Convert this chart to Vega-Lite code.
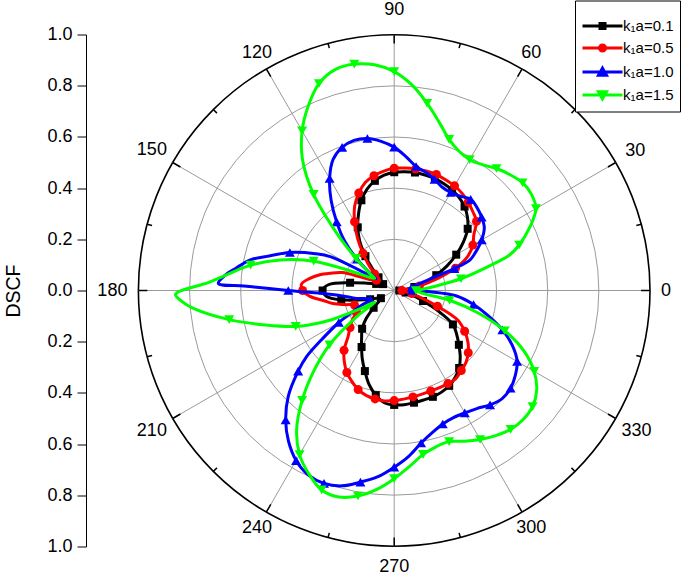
{
  "$schema": "https://vega.github.io/schema/vega-lite/v6.json",
  "width": 564,
  "height": 512,
  "autosize": {"type": "none"},
  "padding": {"left": 86, "top": 34.5, "right": 35, "bottom": 29.5},
  "background": "white",
  "config": {"view": {"stroke": null}, "font": "Liberation Sans"},
  "datasets": {
    "curves": [
      {"s":"k₁a=0.1","t":0,"r":0.02},{"s":"k₁a=0.1","t":5,"r":0.04},{"s":"k₁a=0.1","t":10,"r":0.08},{"s":"k₁a=0.1","t":15,"r":0.125},{"s":"k₁a=0.1","t":20,"r":0.175},{"s":"k₁a=0.1","t":25,"r":0.228},{"s":"k₁a=0.1","t":30,"r":0.28},{"s":"k₁a=0.1","t":35,"r":0.33},{"s":"k₁a=0.1","t":40,"r":0.375},{"s":"k₁a=0.1","t":45,"r":0.405},{"s":"k₁a=0.1","t":50,"r":0.428},{"s":"k₁a=0.1","t":55,"r":0.443},{"s":"k₁a=0.1","t":60,"r":0.453},{"s":"k₁a=0.1","t":65,"r":0.46},{"s":"k₁a=0.1","t":70,"r":0.465},{"s":"k₁a=0.1","t":75,"r":0.467},{"s":"k₁a=0.1","t":80,"r":0.468},{"s":"k₁a=0.1","t":85,"r":0.466},{"s":"k₁a=0.1","t":90,"r":0.462},{"s":"k₁a=0.1","t":95,"r":0.452},{"s":"k₁a=0.1","t":100,"r":0.435},{"s":"k₁a=0.1","t":105,"r":0.41},{"s":"k₁a=0.1","t":110,"r":0.375},{"s":"k₁a=0.1","t":115,"r":0.33},{"s":"k₁a=0.1","t":120,"r":0.285},{"s":"k₁a=0.1","t":125,"r":0.235},{"s":"k₁a=0.1","t":130,"r":0.175},{"s":"k₁a=0.1","t":135,"r":0.12},{"s":"k₁a=0.1","t":140,"r":0.08},{"s":"k₁a=0.1","t":145,"r":0.055},{"s":"k₁a=0.1","t":150,"r":0.05},{"s":"k₁a=0.1","t":155,"r":0.055},{"s":"k₁a=0.1","t":160,"r":0.075},{"s":"k₁a=0.1","t":165,"r":0.11},{"s":"k₁a=0.1","t":170,"r":0.175},{"s":"k₁a=0.1","t":175,"r":0.258},{"s":"k₁a=0.1","t":180,"r":0.28},{"s":"k₁a=0.1","t":185,"r":0.265},{"s":"k₁a=0.1","t":190,"r":0.21},{"s":"k₁a=0.1","t":195,"r":0.145},{"s":"k₁a=0.1","t":200,"r":0.1},{"s":"k₁a=0.1","t":205,"r":0.07},{"s":"k₁a=0.1","t":210,"r":0.06},{"s":"k₁a=0.1","t":215,"r":0.07},{"s":"k₁a=0.1","t":220,"r":0.105},{"s":"k₁a=0.1","t":225,"r":0.155},{"s":"k₁a=0.1","t":230,"r":0.195},{"s":"k₁a=0.1","t":235,"r":0.222},{"s":"k₁a=0.1","t":240,"r":0.255},{"s":"k₁a=0.1","t":245,"r":0.295},{"s":"k₁a=0.1","t":250,"r":0.335},{"s":"k₁a=0.1","t":255,"r":0.38},{"s":"k₁a=0.1","t":260,"r":0.415},{"s":"k₁a=0.1","t":265,"r":0.44},{"s":"k₁a=0.1","t":270,"r":0.447},{"s":"k₁a=0.1","t":275,"r":0.448},{"s":"k₁a=0.1","t":280,"r":0.445},{"s":"k₁a=0.1","t":285,"r":0.443},{"s":"k₁a=0.1","t":290,"r":0.442},{"s":"k₁a=0.1","t":295,"r":0.438},{"s":"k₁a=0.1","t":300,"r":0.43},{"s":"k₁a=0.1","t":305,"r":0.415},{"s":"k₁a=0.1","t":310,"r":0.395},{"s":"k₁a=0.1","t":315,"r":0.365},{"s":"k₁a=0.1","t":320,"r":0.33},{"s":"k₁a=0.1","t":325,"r":0.298},{"s":"k₁a=0.1","t":330,"r":0.265},{"s":"k₁a=0.1","t":335,"r":0.19},{"s":"k₁a=0.1","t":340,"r":0.12},{"s":"k₁a=0.1","t":345,"r":0.075},{"s":"k₁a=0.1","t":350,"r":0.045},{"s":"k₁a=0.1","t":355,"r":0.03},{"s":"k₁a=0.1","t":360,"r":0.02},

      {"s":"k₁a=0.5","t":0,"r":0.03},{"s":"k₁a=0.5","t":5,"r":0.05},{"s":"k₁a=0.5","t":10,"r":0.1},{"s":"k₁a=0.5","t":15,"r":0.17},{"s":"k₁a=0.5","t":20,"r":0.255},{"s":"k₁a=0.5","t":25,"r":0.318},{"s":"k₁a=0.5","t":30,"r":0.355},{"s":"k₁a=0.5","t":35,"r":0.38},{"s":"k₁a=0.5","t":40,"r":0.42},{"s":"k₁a=0.5","t":45,"r":0.435},{"s":"k₁a=0.5","t":50,"r":0.45},{"s":"k₁a=0.5","t":55,"r":0.463},{"s":"k₁a=0.5","t":60,"r":0.472},{"s":"k₁a=0.5","t":65,"r":0.477},{"s":"k₁a=0.5","t":70,"r":0.482},{"s":"k₁a=0.5","t":75,"r":0.483},{"s":"k₁a=0.5","t":80,"r":0.482},{"s":"k₁a=0.5","t":85,"r":0.48},{"s":"k₁a=0.5","t":90,"r":0.478},{"s":"k₁a=0.5","t":95,"r":0.468},{"s":"k₁a=0.5","t":100,"r":0.455},{"s":"k₁a=0.5","t":105,"r":0.437},{"s":"k₁a=0.5","t":110,"r":0.405},{"s":"k₁a=0.5","t":115,"r":0.365},{"s":"k₁a=0.5","t":120,"r":0.31},{"s":"k₁a=0.5","t":125,"r":0.25},{"s":"k₁a=0.5","t":130,"r":0.19},{"s":"k₁a=0.5","t":135,"r":0.14},{"s":"k₁a=0.5","t":140,"r":0.1},{"s":"k₁a=0.5","t":145,"r":0.08},{"s":"k₁a=0.5","t":150,"r":0.08},{"s":"k₁a=0.5","t":155,"r":0.1},{"s":"k₁a=0.5","t":158,"r":0.14},{"s":"k₁a=0.5","t":161,"r":0.215},{"s":"k₁a=0.5","t":165,"r":0.26},{"s":"k₁a=0.5","t":168,"r":0.297},{"s":"k₁a=0.5","t":172,"r":0.335},{"s":"k₁a=0.5","t":176,"r":0.363},{"s":"k₁a=0.5","t":180,"r":0.358},{"s":"k₁a=0.5","t":184,"r":0.33},{"s":"k₁a=0.5","t":188,"r":0.28},{"s":"k₁a=0.5","t":192,"r":0.245},{"s":"k₁a=0.5","t":196,"r":0.2},{"s":"k₁a=0.5","t":200,"r":0.165},{"s":"k₁a=0.5","t":205,"r":0.155},{"s":"k₁a=0.5","t":210,"r":0.17},{"s":"k₁a=0.5","t":215,"r":0.2},{"s":"k₁a=0.5","t":220,"r":0.225},{"s":"k₁a=0.5","t":225,"r":0.255},{"s":"k₁a=0.5","t":230,"r":0.305},{"s":"k₁a=0.5","t":235,"r":0.34},{"s":"k₁a=0.5","t":240,"r":0.37},{"s":"k₁a=0.5","t":245,"r":0.392},{"s":"k₁a=0.5","t":250,"r":0.412},{"s":"k₁a=0.5","t":255,"r":0.424},{"s":"k₁a=0.5","t":260,"r":0.43},{"s":"k₁a=0.5","t":265,"r":0.433},{"s":"k₁a=0.5","t":270,"r":0.43},{"s":"k₁a=0.5","t":275,"r":0.426},{"s":"k₁a=0.5","t":280,"r":0.422},{"s":"k₁a=0.5","t":285,"r":0.419},{"s":"k₁a=0.5","t":290,"r":0.418},{"s":"k₁a=0.5","t":295,"r":0.419},{"s":"k₁a=0.5","t":300,"r":0.42},{"s":"k₁a=0.5","t":305,"r":0.42},{"s":"k₁a=0.5","t":310,"r":0.408},{"s":"k₁a=0.5","t":315,"r":0.397},{"s":"k₁a=0.5","t":320,"r":0.378},{"s":"k₁a=0.5","t":325,"r":0.352},{"s":"k₁a=0.5","t":330,"r":0.318},{"s":"k₁a=0.5","t":335,"r":0.275},{"s":"k₁a=0.5","t":340,"r":0.18},{"s":"k₁a=0.5","t":345,"r":0.11},{"s":"k₁a=0.5","t":350,"r":0.07},{"s":"k₁a=0.5","t":355,"r":0.045},{"s":"k₁a=0.5","t":360,"r":0.03},

      {"s":"k₁a=1.0","t":0,"r":0.07},{"s":"k₁a=1.0","t":5,"r":0.06},{"s":"k₁a=1.0","t":10,"r":0.07},{"s":"k₁a=1.0","t":15,"r":0.1},{"s":"k₁a=1.0","t":18,"r":0.15},{"s":"k₁a=1.0","t":20,"r":0.25},{"s":"k₁a=1.0","t":22,"r":0.32},{"s":"k₁a=1.0","t":25,"r":0.35},{"s":"k₁a=1.0","t":30,"r":0.395},{"s":"k₁a=1.0","t":35,"r":0.43},{"s":"k₁a=1.0","t":40,"r":0.446},{"s":"k₁a=1.0","t":45,"r":0.458},{"s":"k₁a=1.0","t":50,"r":0.465},{"s":"k₁a=1.0","t":55,"r":0.45},{"s":"k₁a=1.0","t":60,"r":0.442},{"s":"k₁a=1.0","t":65,"r":0.445},{"s":"k₁a=1.0","t":70,"r":0.462},{"s":"k₁a=1.0","t":75,"r":0.478},{"s":"k₁a=1.0","t":80,"r":0.492},{"s":"k₁a=1.0","t":85,"r":0.525},{"s":"k₁a=1.0","t":90,"r":0.56},{"s":"k₁a=1.0","t":95,"r":0.585},{"s":"k₁a=1.0","t":100,"r":0.603},{"s":"k₁a=1.0","t":105,"r":0.607},{"s":"k₁a=1.0","t":110,"r":0.595},{"s":"k₁a=1.0","t":115,"r":0.565},{"s":"k₁a=1.0","t":120,"r":0.505},{"s":"k₁a=1.0","t":125,"r":0.43},{"s":"k₁a=1.0","t":130,"r":0.35},{"s":"k₁a=1.0","t":135,"r":0.275},{"s":"k₁a=1.0","t":140,"r":0.19},{"s":"k₁a=1.0","t":144,"r":0.12},{"s":"k₁a=1.0","t":147,"r":0.085},{"s":"k₁a=1.0","t":149,"r":0.13},{"s":"k₁a=1.0","t":152,"r":0.28},{"s":"k₁a=1.0","t":155,"r":0.34},{"s":"k₁a=1.0","t":160,"r":0.434},{"s":"k₁a=1.0","t":165,"r":0.515},{"s":"k₁a=1.0","t":168,"r":0.575},{"s":"k₁a=1.0","t":172,"r":0.625},{"s":"k₁a=1.0","t":175,"r":0.665},{"s":"k₁a=1.0","t":177.7,"r":0.688},{"s":"k₁a=1.0","t":178.3,"r":0.588},{"s":"k₁a=1.0","t":179.1,"r":0.489},{"s":"k₁a=1.0","t":180,"r":0.414},{"s":"k₁a=1.0","t":180.7,"r":0.368},{"s":"k₁a=1.0","t":181.9,"r":0.294},{"s":"k₁a=1.0","t":184.5,"r":0.226},{"s":"k₁a=1.0","t":188,"r":0.18},{"s":"k₁a=1.0","t":192,"r":0.15},{"s":"k₁a=1.0","t":200,"r":0.1},{"s":"k₁a=1.0","t":205,"r":0.15},{"s":"k₁a=1.0","t":210,"r":0.25},{"s":"k₁a=1.0","t":214,"r":0.34},{"s":"k₁a=1.0","t":217,"r":0.428},{"s":"k₁a=1.0","t":220,"r":0.49},{"s":"k₁a=1.0","t":225,"r":0.586},{"s":"k₁a=1.0","t":230,"r":0.66},{"s":"k₁a=1.0","t":235,"r":0.72},{"s":"k₁a=1.0","t":240,"r":0.767},{"s":"k₁a=1.0","t":245,"r":0.795},{"s":"k₁a=1.0","t":250,"r":0.802},{"s":"k₁a=1.0","t":255,"r":0.79},{"s":"k₁a=1.0","t":260,"r":0.76},{"s":"k₁a=1.0","t":265,"r":0.73},{"s":"k₁a=1.0","t":270,"r":0.69},{"s":"k₁a=1.0","t":275,"r":0.65},{"s":"k₁a=1.0","t":280,"r":0.605},{"s":"k₁a=1.0","t":285,"r":0.575},{"s":"k₁a=1.0","t":290,"r":0.555},{"s":"k₁a=1.0","t":295,"r":0.548},{"s":"k₁a=1.0","t":300,"r":0.552},{"s":"k₁a=1.0","t":305,"r":0.563},{"s":"k₁a=1.0","t":310,"r":0.583},{"s":"k₁a=1.0","t":315,"r":0.597},{"s":"k₁a=1.0","t":320,"r":0.594},{"s":"k₁a=1.0","t":325,"r":0.578},{"s":"k₁a=1.0","t":330,"r":0.555},{"s":"k₁a=1.0","t":335,"r":0.51},{"s":"k₁a=1.0","t":340,"r":0.45},{"s":"k₁a=1.0","t":345,"r":0.38},{"s":"k₁a=1.0","t":350,"r":0.315},{"s":"k₁a=1.0","t":355,"r":0.245},{"s":"k₁a=1.0","t":358,"r":0.14},{"s":"k₁a=1.0","t":360,"r":0.07},

      {"s":"k₁a=1.5","t":0,"r":0.085},{"s":"k₁a=1.5","t":4,"r":0.13},{"s":"k₁a=1.5","t":8,"r":0.205},{"s":"k₁a=1.5","t":10,"r":0.265},{"s":"k₁a=1.5","t":14,"r":0.37},{"s":"k₁a=1.5","t":17,"r":0.47},{"s":"k₁a=1.5","t":20,"r":0.52},{"s":"k₁a=1.5","t":25,"r":0.585},{"s":"k₁a=1.5","t":30,"r":0.64},{"s":"k₁a=1.5","t":35,"r":0.655},{"s":"k₁a=1.5","t":40,"r":0.655},{"s":"k₁a=1.5","t":45,"r":0.64},{"s":"k₁a=1.5","t":50,"r":0.622},{"s":"k₁a=1.5","t":55,"r":0.6},{"s":"k₁a=1.5","t":60,"r":0.59},{"s":"k₁a=1.5","t":65,"r":0.6},{"s":"k₁a=1.5","t":70,"r":0.628},{"s":"k₁a=1.5","t":75,"r":0.68},{"s":"k₁a=1.5","t":80,"r":0.742},{"s":"k₁a=1.5","t":85,"r":0.805},{"s":"k₁a=1.5","t":90,"r":0.855},{"s":"k₁a=1.5","t":95,"r":0.885},{"s":"k₁a=1.5","t":100,"r":0.898},{"s":"k₁a=1.5","t":105,"r":0.893},{"s":"k₁a=1.5","t":110,"r":0.86},{"s":"k₁a=1.5","t":115,"r":0.795},{"s":"k₁a=1.5","t":120,"r":0.72},{"s":"k₁a=1.5","t":125,"r":0.625},{"s":"k₁a=1.5","t":130,"r":0.49},{"s":"k₁a=1.5","t":135,"r":0.32},{"s":"k₁a=1.5","t":140,"r":0.195},{"s":"k₁a=1.5","t":145,"r":0.12},{"s":"k₁a=1.5","t":148,"r":0.09},{"s":"k₁a=1.5","t":152,"r":0.11},{"s":"k₁a=1.5","t":156,"r":0.19},{"s":"k₁a=1.5","t":160,"r":0.335},{"s":"k₁a=1.5","t":165,"r":0.46},{"s":"k₁a=1.5","t":170,"r":0.57},{"s":"k₁a=1.5","t":175,"r":0.665},{"s":"k₁a=1.5","t":177.5,"r":0.725},{"s":"k₁a=1.5","t":181,"r":0.855},{"s":"k₁a=1.5","t":183,"r":0.83},{"s":"k₁a=1.5","t":185,"r":0.79},{"s":"k₁a=1.5","t":190,"r":0.655},{"s":"k₁a=1.5","t":195,"r":0.52},{"s":"k₁a=1.5","t":200,"r":0.41},{"s":"k₁a=1.5","t":202,"r":0.36},{"s":"k₁a=1.5","t":205,"r":0.27},{"s":"k₁a=1.5","t":208,"r":0.16},{"s":"k₁a=1.5","t":211,"r":0.09},{"s":"k₁a=1.5","t":215,"r":0.18},{"s":"k₁a=1.5","t":220,"r":0.33},{"s":"k₁a=1.5","t":225,"r":0.445},{"s":"k₁a=1.5","t":230,"r":0.56},{"s":"k₁a=1.5","t":235,"r":0.665},{"s":"k₁a=1.5","t":240,"r":0.74},{"s":"k₁a=1.5","t":245,"r":0.79},{"s":"k₁a=1.5","t":250,"r":0.829},{"s":"k₁a=1.5","t":255,"r":0.835},{"s":"k₁a=1.5","t":260,"r":0.815},{"s":"k₁a=1.5","t":265,"r":0.78},{"s":"k₁a=1.5","t":270,"r":0.735},{"s":"k₁a=1.5","t":275,"r":0.69},{"s":"k₁a=1.5","t":280,"r":0.65},{"s":"k₁a=1.5","t":285,"r":0.632},{"s":"k₁a=1.5","t":290,"r":0.628},{"s":"k₁a=1.5","t":295,"r":0.65},{"s":"k₁a=1.5","t":300,"r":0.672},{"s":"k₁a=1.5","t":305,"r":0.692},{"s":"k₁a=1.5","t":310,"r":0.708},{"s":"k₁a=1.5","t":315,"r":0.713},{"s":"k₁a=1.5","t":320,"r":0.706},{"s":"k₁a=1.5","t":325,"r":0.68},{"s":"k₁a=1.5","t":330,"r":0.632},{"s":"k₁a=1.5","t":335,"r":0.56},{"s":"k₁a=1.5","t":340,"r":0.46},{"s":"k₁a=1.5","t":345,"r":0.34},{"s":"k₁a=1.5","t":350,"r":0.22},{"s":"k₁a=1.5","t":355,"r":0.105},{"s":"k₁a=1.5","t":360,"r":0.085}
    ],
    "rings": [{"r":0.2},{"r":0.4},{"r":0.6},{"r":0.8},{"r":1.0}],
    "spokes": [{"a":0},{"a":30},{"a":60},{"a":90},{"a":120},{"a":150},{"a":180},{"a":210},{"a":240},{"a":270},{"a":300},{"a":330}],
    "ticks": [{"a":0},{"a":15},{"a":30},{"a":45},{"a":60},{"a":75},{"a":90},{"a":105},{"a":120},{"a":135},{"a":150},{"a":165},{"a":180},{"a":195},{"a":210},{"a":225},{"a":240},{"a":255},{"a":270},{"a":285},{"a":300},{"a":315},{"a":330},{"a":345}],
    "labels": [{"a":0,"label":"0"},{"a":30,"label":"30"},{"a":60,"label":"60"},{"a":90,"label":"90"},{"a":120,"label":"120"},{"a":150,"label":"150"},{"a":180,"label":"180"},{"a":210,"label":"210"},{"a":240,"label":"240"},{"a":270,"label":"270"},{"a":300,"label":"300"},{"a":330,"label":"330"}]
  },
  "encoding": {
    "x": {"field": "x", "type": "quantitative", "scale": {"domain": [-1.2048, 1.0], "nice": false, "zero": false}, "axis": null},
    "y": {"field": "y", "type": "quantitative", "scale": {"domain": [-1, 1], "nice": false, "zero": false},
      "axis": {"values": [-1, -0.8, -0.6, -0.4, -0.2, 0, 0.2, 0.4, 0.6, 0.8, 1], "labelExpr": "format(abs(datum.value), '.1f')", "grid": false, "domainColor": "black", "domainWidth": 1, "tickColor": "black", "tickSize": 9, "tickWidth": 1, "labelFontSize": 18, "labelColor": "black", "labelFont": "Liberation Sans", "labelPadding": 5, "title": "DSCF", "titleFontSize": 19.5, "titleFontWeight": "normal", "titleColor": "black", "titleFont": "Liberation Sans", "titlePadding": 23}}
  },
  "layer": [
    {
      "data": {"name": "rings"},
      "transform": [{"calculate": "0", "as": "x"}, {"calculate": "0", "as": "y"}],
      "mark": {"type": "point", "shape": "circle", "filled": false, "opacity": 1},
      "encoding": {
        "size": {"field": "r", "type": "quantitative", "scale": {"type": "pow", "exponent": 2, "domain": [0, 1], "range": [0, 261739], "zero": true}, "legend": null},
        "stroke": {"condition": {"test": "datum.r == 1", "value": "black"}, "value": "#9a9a9a"},
        "strokeWidth": {"condition": {"test": "datum.r == 1", "value": 1.6}, "value": 1}
      }
    },
    {
      "data": {"name": "spokes"},
      "transform": [{"calculate": "0", "as": "x"}, {"calculate": "0", "as": "y"}, {"calculate": "cos(datum.a*PI/180)", "as": "x2"}, {"calculate": "sin(datum.a*PI/180)", "as": "y2"}],
      "mark": {"type": "rule", "color": "#9a9a9a", "strokeWidth": 1},
      "encoding": {"x2": {"field": "x2"}, "y2": {"field": "y2"}}
    },
    {
      "data": {"name": "ticks"},
      "transform": [{"calculate": "datum.a % 30 == 0 ? 0.965 : 0.98", "as": "ri"}, {"calculate": "datum.ri*cos(datum.a*PI/180)", "as": "x"}, {"calculate": "datum.ri*sin(datum.a*PI/180)", "as": "y"}, {"calculate": "cos(datum.a*PI/180)", "as": "x2"}, {"calculate": "sin(datum.a*PI/180)", "as": "y2"}],
      "mark": {"type": "rule", "color": "black", "strokeWidth": 1.5},
      "encoding": {"x2": {"field": "x2"}, "y2": {"field": "y2"}}
    },
    {
      "data": {"name": "labels"},
      "transform": [
        {"calculate": "datum.a*PI/180", "as": "tr"},
        {"calculate": "(11 + min(length(datum.label)*5/max(abs(cos(datum.tr)),0.001), 6.5/max(abs(sin(datum.tr)),0.001)) + (sin(datum.tr) > 0.99 ? 7 : 0) + (sin(datum.tr) < -0.99 ? 3 : 0))/255.8", "as": "off"},
        {"calculate": "(1+datum.off)*cos(datum.tr)", "as": "x"},
        {"calculate": "(1+datum.off)*sin(datum.tr)", "as": "y"}
      ],
      "mark": {"type": "text", "fontSize": 18, "font": "Liberation Sans", "color": "black", "align": "center", "baseline": "middle"},
      "encoding": {"text": {"field": "label"}}
    },
    {
      "data": {"name": "curves"},
      "transform": [{"filter": "datum.s == 'k₁a=0.1'"}, {"calculate": "datum.r*cos(datum.t*PI/180)", "as": "x"}, {"calculate": "datum.r*sin(datum.t*PI/180)", "as": "y"}],
      "layer": [
        {"mark": {"type": "line", "color": "black", "strokeWidth": 3, "interpolate": "catmull-rom"}, "encoding": {"order": {"field": "t", "type": "quantitative"}}},
        {"transform": [{"filter": "datum.t % 10 == 0 && datum.t < 360"}], "mark": {"type": "point", "shape": "square", "filled": true, "color": "black", "size": 64, "opacity": 1}}
      ]
    },
    {
      "data": {"name": "curves"},
      "transform": [{"filter": "datum.s == 'k₁a=0.5'"}, {"calculate": "datum.r*cos(datum.t*PI/180)", "as": "x"}, {"calculate": "datum.r*sin(datum.t*PI/180)", "as": "y"}],
      "layer": [
        {"mark": {"type": "line", "color": "#ff0000", "strokeWidth": 3, "interpolate": "catmull-rom"}, "encoding": {"order": {"field": "t", "type": "quantitative"}}},
        {"transform": [{"filter": "datum.t % 10 == 0 && datum.t < 360"}], "mark": {"type": "point", "shape": "circle", "filled": true, "color": "#ff0000", "size": 81, "opacity": 1}}
      ]
    },
    {
      "data": {"name": "curves"},
      "transform": [{"filter": "datum.s == 'k₁a=1.0'"}, {"calculate": "datum.r*cos(datum.t*PI/180)", "as": "x"}, {"calculate": "datum.r*sin(datum.t*PI/180)", "as": "y"}],
      "layer": [
        {"mark": {"type": "line", "color": "#0000ff", "strokeWidth": 3, "interpolate": "catmull-rom"}, "encoding": {"order": {"field": "t", "type": "quantitative"}}},
        {"transform": [{"filter": "datum.t % 10 == 0 && datum.t < 360"}], "mark": {"type": "point", "shape": "triangle-up", "filled": true, "color": "#0000ff", "size": 100, "opacity": 1}}
      ]
    },
    {
      "data": {"name": "curves"},
      "transform": [{"filter": "datum.s == 'k₁a=1.5'"}, {"calculate": "datum.r*cos(datum.t*PI/180)", "as": "x"}, {"calculate": "datum.r*sin(datum.t*PI/180)", "as": "y"}],
      "layer": [
        {"mark": {"type": "line", "color": "#00ff00", "strokeWidth": 3, "interpolate": "catmull-rom"}, "encoding": {"order": {"field": "t", "type": "quantitative"}}},
        {"transform": [{"filter": "datum.t % 10 == 0 && datum.t < 360"}], "mark": {"type": "point", "shape": "triangle-down", "filled": true, "color": "#00ff00", "size": 100, "opacity": 1}}
      ]
    },
    {
      "data": {"name": "curves"},
      "transform": [{"filter": "false"}, {"calculate": "0", "as": "x"}, {"calculate": "0", "as": "y"}],
      "mark": {"type": "point", "filled": true, "size": 196, "opacity": 1, "strokeWidth": 3},
      "encoding": {
        "shape": {"field": "s", "type": "nominal", "scale": {"domain": ["k₁a=0.1", "k₁a=0.5", "k₁a=1.0", "k₁a=1.5"], "range": ["M-1,0H4.714M1.5,-0.357H2.214V0.357H1.5Z", "M-1,0H4.714M2.286,0A0.429,0.429 0 1 1 1.428,0A0.429,0.429 0 1 1 2.286,0Z", "M-1,0H4.714M1.857,-0.55L2.428,0.45L1.286,0.45Z", "M-1,0H4.714M1.857,0.55L2.428,-0.45L1.286,-0.45Z"]},
          "legend": {"title": "\u00a0", "titleFontSize": 6, "titlePadding": 5, "orient": "none", "legendX": 489, "legendY": -34, "symbolSize": 196, "symbolStrokeWidth": 3, "labelFontSize": 15, "labelFont": "Liberation Sans", "labelColor": "black", "labelOffset": 25, "padding": 6, "strokeColor": "black", "fillColor": "white", "rowPadding": 4, "labelLimit": 0, "symbolOpacity": 1}},
        "fill": {"field": "s", "type": "nominal", "scale": {"domain": ["k₁a=0.1", "k₁a=0.5", "k₁a=1.0", "k₁a=1.5"], "range": ["#000000", "#ff0000", "#0000ff", "#00ff00"]}},
        "stroke": {"field": "s", "type": "nominal", "scale": {"domain": ["k₁a=0.1", "k₁a=0.5", "k₁a=1.0", "k₁a=1.5"], "range": ["#000000", "#ff0000", "#0000ff", "#00ff00"]}}
      }
    }
  ]
}
